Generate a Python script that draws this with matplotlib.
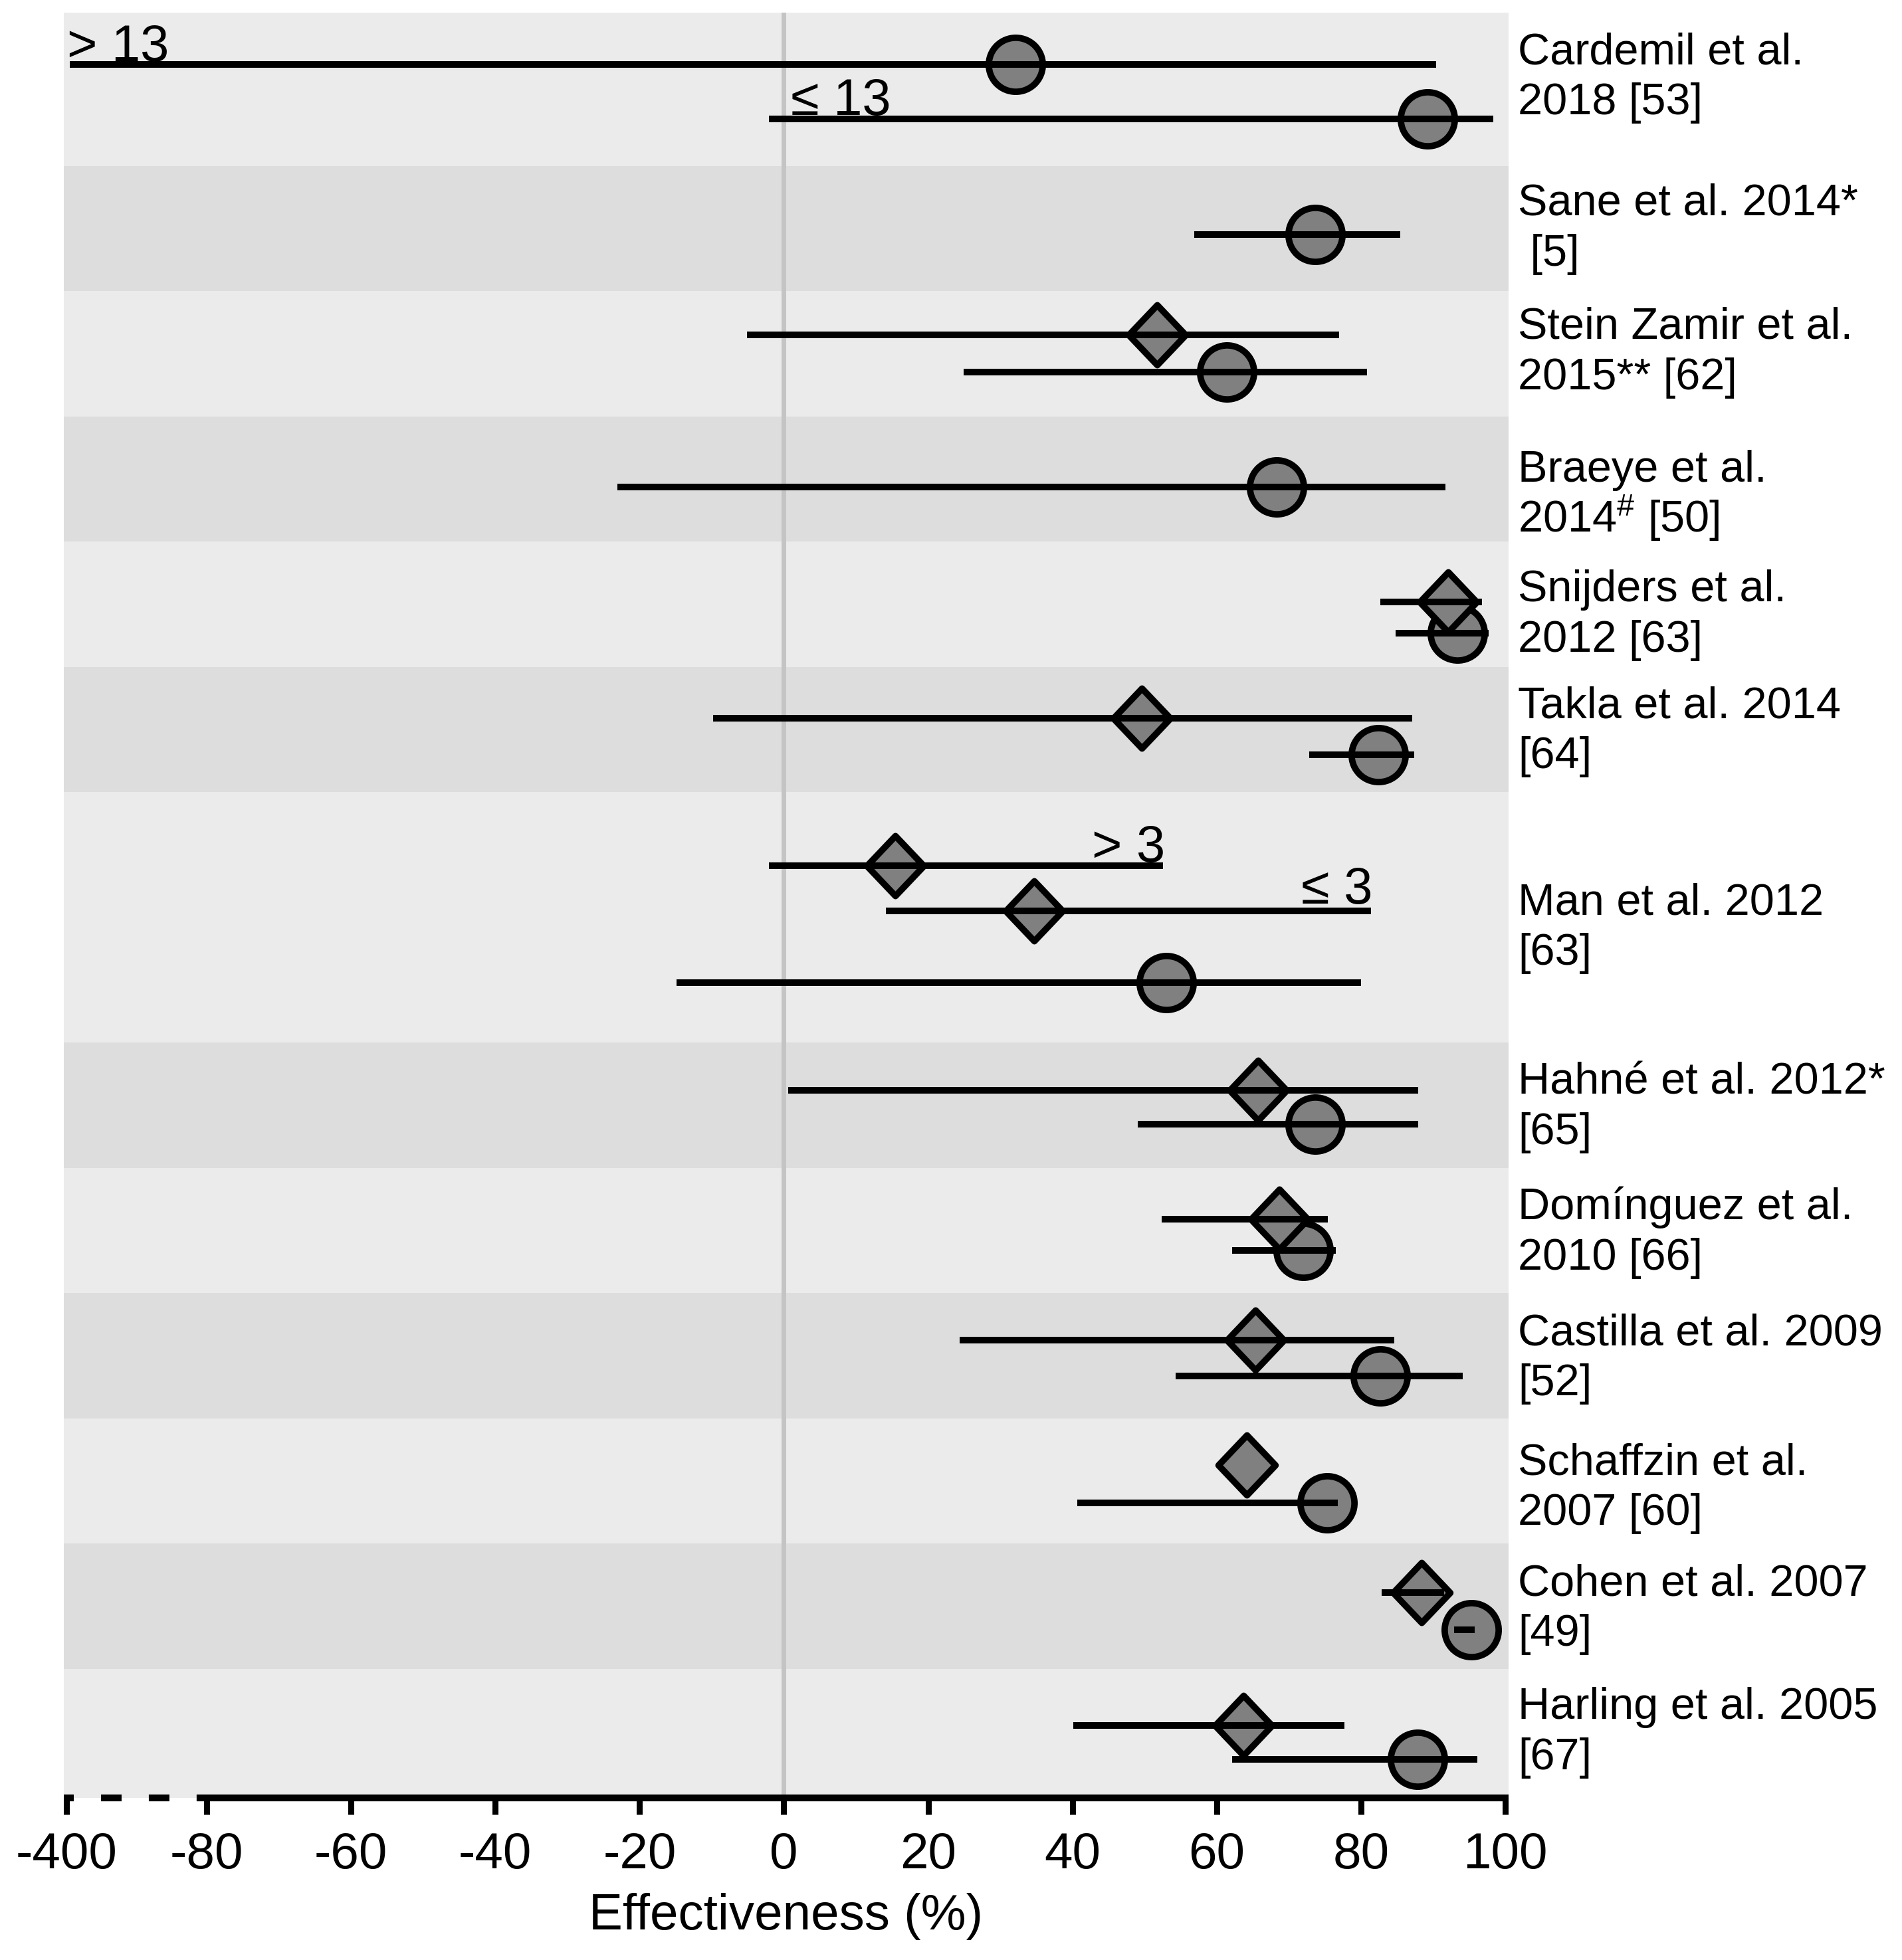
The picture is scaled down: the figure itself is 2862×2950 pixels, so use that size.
import numpy as np
import matplotlib
matplotlib.use("Agg")
import matplotlib.pyplot as plt
from matplotlib.path import Path
from matplotlib.markers import MarkerStyle
from matplotlib.transforms import blended_transform_factory

plt.rcParams['font.family'] = ['Liberation Sans', 'DejaVu Sans']
plt.rcParams['mathtext.fontset'] = 'custom'
plt.rcParams['mathtext.rm'] = 'Liberation Sans'
plt.rcParams['mathtext.it'] = 'Liberation Sans:italic'
plt.rcParams['mathtext.bf'] = 'Liberation Sans:bold'
plt.rcParams['axes.unicode_minus'] = False
plt.rcParams['lines.scale_dashes'] = False

# ---------------- data ----------------
studies = [
    "Cardemil et al.\n2018 [53]",
    "Sane et al. 2014*\n [5]",
    "Stein Zamir et al.\n2015** [62]",
    "Braeye et al.\n2014$^{\\#}$ [50]",
    "Snijders et al.\n2012 [63]",
    "Takla et al. 2014\n[64]",
    "Man et al. 2012\n[63]",
    "Hahné et al. 2012*\n[65]",
    "Domínguez et al.\n2010 [66]",
    "Castilla et al. 2009\n[52]",
    "Schaffzin et al.\n2007 [60]",
    "Cohen et al. 2007\n[49]",
    "Harling et al. 2005\n[67]",
]

# one entry per estimate
est_study = [0, 0, 1, 2, 2, 3, 4, 4, 5, 5, 6, 6, 6, 7, 7, 8, 8, 9, 9, 10, 10, 11, 11, 12, 12]
est_shape = ['o', 'o', 'o', 'D', 'o', 'o', 'D', 'o', 'D', 'o', 'D', 'D', 'o',
             'D', 'o', 'D', 'o', 'D', 'o', 'D', 'o', 'D', 'o', 'D', 'o']
est_value = [32.1, 89.2, 73.7, 51.7, 61.4, 68.3, 92.1, 93.4, 49.6, 82.4, 15.4, 34.7, 53.0,
             65.7, 73.7, 68.7, 72.0, 65.4, 82.7, 64.2, 75.3, 88.4, 95.3, 63.7, 87.8]
ci_low = [-392, -2.1, 56.9, -5.1, 24.9, -23.1, 82.7, 84.8, -9.8, 72.8, -2.1, 14.1, -14.9,
          0.6, 49.1, 52.4, 62.1, 24.4, 54.3, np.nan, 40.7, 82.9, 92.9, 40.1, 62.1]
ci_high = [90.4, 98.3, 85.4, 77.0, 80.8, 91.7, 96.8, 97.7, 87.1, 87.4, 52.6, 81.4, 80.0,
           87.9, 87.9, 75.4, 76.5, 84.6, 94.1, np.nan, 76.8, 91.5, 95.8, 77.7, 96.1]

subgroup_text = ['> 13', '≤ 13', '> 3', '≤ 3']
subgroup_est = [0, 1, 10, 11]

tick_values = [-400, -80, -60, -40, -20, 0, 20, 40, 60, 80, 100]
x_label = 'Effectiveness (%)'

# ---------------- layout ----------------
band_heights = [1.225, 1, 1, 1, 1, 1, 2, 1, 1, 1, 1, 1, 1]
est_offset = [0.414, 0.849, 0.548, 0.346, 0.646, 0.564, 0.481, 0.730, 0.409, 0.700,
              0.589, 0.948, 1.520, 0.380, 0.650, 0.409, 0.658, 0.375, 0.665, 0.372,
              0.675, 0.391, 0.690, 0.455, 0.725]
label_center = [0.475, 1.684, 2.671, 3.814, 4.769, 5.698, 7.268, 8.700, 9.703,
                10.706, 11.74, 12.706, 13.69]
sub_anchor = ['lo', 'lo', 'hi', 'hi']
sub_ha = ['left', 'left', 'right', 'right']
sub_dx = [-3, 24, 2, 2]
sub_dy = [3.6, 4.3, 4.7, 8.0]

band_light = '#EBEBEB'
band_dark = '#DDDDDD'
marker_fill = '#808080'

# compressed scale below -80
K = 19.44 / 320.0


def fwd(x):
    x = np.asarray(x, dtype=float)
    return np.where(x < -80, -80 + (x + 80) * K, x)


def inv(y):
    y = np.asarray(y, dtype=float)
    return np.where(y < -80, -80 + (y + 80) / K, y)


fig = plt.figure(figsize=(28.62, 29.50), dpi=100)
ax = fig.add_axes([0.03354, 0.08288, 0.75961, 0.91068])
ax.set_xscale('function', functions=(fwd, inv))
ax.set_xlim(-406, 100.46)
ax.set_ylim(14.254, 0)

band_top = np.concatenate([[0], np.cumsum(band_heights)[:-1]])
band_bot = band_top + np.asarray(band_heights)
band_bot[-1] = 14.254
for i in range(len(studies)):
    ax.axhspan(band_top[i], band_bot[i], color=band_light if i % 2 == 0 else band_dark,
               lw=0, zorder=0)

ax.axvline(0, color='#C4C4C4', lw=5.0, zorder=1)

est_value = np.asarray(est_value)
ci_low = np.asarray(ci_low, dtype=float)
ci_high = np.asarray(ci_high, dtype=float)
y_est = band_top[np.asarray(est_study)] + np.asarray(est_offset)
shape = np.asarray(est_shape)

diamond = MarkerStyle(Path([(0, 1), (0.95, 0), (0, -1), (-0.95, 0), (0, 1)],
                           [Path.MOVETO, Path.LINETO, Path.LINETO, Path.LINETO, Path.CLOSEPOLY]),
                      joinstyle='miter')

m = shape == 'o'
ax.plot(est_value[m], y_est[m], ls='none', marker='o', ms=58.5, mew=7.0,
        mfc=marker_fill, mec='black', zorder=3)
m = shape == 'D'
ax.plot(est_value[m], y_est[m], ls='none', marker=diamond, ms=65, mew=7.0,
        mfc=marker_fill, mec='black', zorder=4)

for lo, hi, y in zip(ci_low, ci_high, y_est):
    if np.isnan(lo):
        continue
    ax.plot([lo, hi], [y, y], color='black', lw=7.2, solid_capstyle='butt', zorder=5)

for txt, ei, anc, ha, dx, dy in zip(subgroup_text, subgroup_est, sub_anchor, sub_ha, sub_dx, sub_dy):
    xv = ci_low[ei] if anc == 'lo' else ci_high[ei]
    ax.annotate(txt, (xv, y_est[ei]), xytext=(dx, dy), textcoords='offset points',
                ha=ha, va='baseline', fontsize=56, zorder=6)

# study labels on the right
tr = blended_transform_factory(ax.transAxes, ax.transData)
unit_px = 188.5
for lab, yc in zip(studies, label_center):
    l1, l2 = lab.split('\n')
    ax.text(1.0064, yc - 12.5 / unit_px, l1, transform=tr, ha='left', va='baseline',
            fontsize=48, clip_on=False)
    ax.text(1.0064, yc + 63.5 / unit_px, l2, transform=tr, ha='left', va='baseline',
            fontsize=48, clip_on=False)

# axes styling
for s in ['left', 'right', 'top']:
    ax.spines[s].set_visible(False)
ax.spines['bottom'].set_linewidth(7.4)
ax.spines['bottom'].set_bounds(-80, 100.46)
ax.spines['bottom'].set_capstyle('butt')
ax.plot([-406, -80], [0, 0], transform=ax.get_xaxis_transform(), color='black', lw=7.4,
        linestyle=(11.5, (22.3, 29.5)), solid_capstyle='butt', dash_capstyle='butt',
        clip_on=False, zorder=6)
ax.set_yticks([])
ax.set_xticks(tick_values)
ax.set_xticklabels([str(t) for t in tick_values])
ax.xaxis.set_minor_locator(matplotlib.ticker.NullLocator())
ax.tick_params(axis='x', direction='out', length=18, width=6.5, pad=19, labelsize=55,
               color='black')
ax.set_xlabel(x_label, fontsize=55, labelpad=15)

fig.savefig('out.png', dpi=100, facecolor='white')
